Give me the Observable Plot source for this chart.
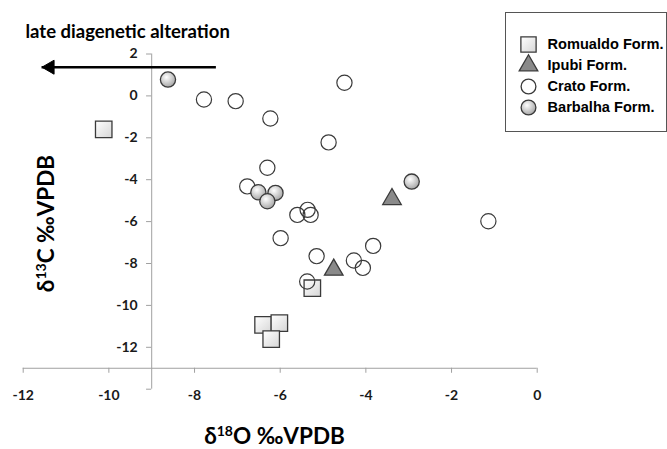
<!DOCTYPE html>
<html>
<head>
<meta charset="utf-8">
<script src="https://cdn.jsdelivr.net/npm/d3@7"></script>
<script src="https://cdn.jsdelivr.net/npm/@observablehq/plot@0.6"></script>
<style>
  html, body { margin: 0; padding: 0; background: #fff; }
  #wrap { position: relative; width: 667px; height: 449px; }
  #legend { position: absolute; left: 505px; top: 12px; width: 160px; height: 118px; border: 1px solid #555; background: #fff; }
  #legend svg, #chart svg { display: block; }
</style>
</head>
<body>
<div id="wrap">
  <div id="chart"></div>
  <div id="legend"></div>
</div>
<script>
// δ18O, δ13C pairs
const romualdo = [[-10.12, -1.60], [-5.25, -9.18], [-6.40, -10.93], [-6.02, -10.85], [-6.21, -11.61]];
const ipubi = [[-3.39, -4.93], [-4.75, -8.30]];
const crato = [[-4.50, 0.63], [-7.78, -0.17], [-7.04, -0.25], [-6.23, -1.08], [-4.87, -2.22], [-6.30, -3.43],
  [-6.77, -4.32], [-5.60, -5.68], [-5.36, -5.44], [-5.29, -5.68], [-5.99, -6.79], [-5.15, -7.65],
  [-4.28, -7.86], [-4.07, -8.21], [-3.83, -7.16], [-5.37, -8.86], [-1.14, -5.98]];
const barbalha = [[-8.62, 0.78], [-6.51, -4.60], [-6.11, -4.63], [-6.30, -5.03], [-2.93, -4.09]];

const xTicks = [-12, -10, -8, -6, -4, -2, 0];
const yTicks = [2, 0, -2, -4, -6, -8, -10, -12, -14];
const yLabels = [2, 0, -2, -4, -6, -8, -10, -12];
const xAxisAt = -13;   // δ13C value where the horizontal axis crosses
const yAxisAt = -9;    // δ18O value where the vertical axis crosses
const arrowFrom = [-7.63, 1.37];
const arrowTo = [-11.56, 1.37];
const names = ["Romualdo Form.", "Ipubi Form.", "Crato Form.", "Barbalha Form."];

const tickFont = "Lato, 'DejaVu Sans', sans-serif";
const axisGray = "#a0a0a0";
const mk = "#3a3a3a";

const px = d => d[0], py = d => d[1];

const chart = Plot.plot({
  width: 667,
  height: 449,
  margin: 0,
  style: {fontFamily: tickFont, background: "#fff"},
  x: {domain: [-12, 0], range: [22.7, 536.7], axis: null},
  y: {domain: [-14, 2], range: [388.7, 53.5], axis: null},
  marks: [
    // axes
    Plot.ruleY([xAxisAt], {x1: -12, x2: 0, stroke: axisGray, strokeWidth: 1}),
    Plot.ruleX([yAxisAt], {y1: -14, y2: 2, stroke: axisGray, strokeWidth: 1}),
    Plot.ruleX(xTicks, {x: d => d, y1: xAxisAt, y2: xAxisAt - 0.24, stroke: axisGray}),
    Plot.ruleY(yTicks, {y: d => d, x1: yAxisAt, x2: yAxisAt - 0.12, stroke: axisGray}),
    Plot.text(xTicks, {x: d => d, y: xAxisAt, dy: 27, text: d => String(d), fontSize: 14, fontWeight: "bold", fill: "#1a1a1a"}),
    Plot.text(yLabels, {x: yAxisAt, y: d => d, dx: -14, text: d => String(d), textAnchor: "end", fontSize: 14, fontWeight: "bold", fill: "#1a1a1a"}),
    // annotation arrow
    Plot.ruleY([arrowTo[1]], {x1: arrowFrom[0], x2: arrowTo[0], dx: 0, stroke: "#000", strokeWidth: 2.6, insetLeft: 6}),
    Plot.dot([arrowTo], {x: px, y: py, symbol: "triangle", r: 5.2, rotate: -90, dx: 8, fill: "#000", stroke: "#000", strokeWidth: 1}),
    Plot.text(["late diagenetic alteration"], {frameAnchor: "top-left", dx: 25, dy: 32, text: d => d, textAnchor: "start", lineAnchor: "middle", fontSize: 18.5, fontWeight: "bold", fill: "#000"}),
    // axis titles
    Plot.text(["δ18O ‰VPDB"], {frameAnchor: "top-left", dx: 274, dy: 436, text: d => d, textAnchor: "middle", lineAnchor: "middle", fontSize: 22.5, fontWeight: "bold", fill: "#000"}),
    Plot.text(["δ13C ‰VPDB"], {frameAnchor: "top-left", dx: 46, dy: 223, text: d => d, rotate: -90, textAnchor: "middle", lineAnchor: "middle", fontSize: 22.5, fontWeight: "bold", fill: "#000"}),
    // data
    Plot.dot(romualdo, {x: px, y: py, symbol: "square", r: 9.3, fill: "url(#gSq)", stroke: mk, strokeWidth: 1.3}),
    Plot.dot(ipubi, {x: px, y: py, symbol: "triangle", r: 6.9, fill: "#8a8a8a", stroke: mk, strokeWidth: 1.3}),
    Plot.dot(crato, {x: px, y: py, symbol: "circle", r: 7.6, fill: "none", stroke: mk, strokeWidth: 1.2}),
    Plot.dot(barbalha, {x: px, y: py, symbol: "circle", r: 7.6, fill: "url(#gCi)", stroke: mk, strokeWidth: 1.3})
  ]
});

// gradients for the marker fills
const defs = d3.select(chart).insert("defs", ":first-child");
const gs = defs.append("linearGradient").attr("id", "gSq").attr("x1", 0).attr("y1", 0).attr("x2", 1).attr("y2", 1);
gs.append("stop").attr("offset", "0%").attr("stop-color", "#ffffff");
gs.append("stop").attr("offset", "100%").attr("stop-color", "#d6d6d6");
const gc = defs.append("radialGradient").attr("id", "gCi").attr("cx", "40%").attr("cy", "35%").attr("r", "65%");
gc.append("stop").attr("offset", "0%").attr("stop-color", "#ffffff");
gc.append("stop").attr("offset", "100%").attr("stop-color", "#a8a8a8");

// superscripts in axis titles
d3.select(chart).selectAll("text").filter(function () { return this.textContent.includes("VPDB"); })
  .each(function () {
    const t = d3.select(this);
    const s = this.textContent;
    const sup = s.slice(1, 3), rest = s.slice(3);
    t.text(null);
    t.append("tspan").text("δ");
    t.append("tspan").attr("font-size", 14).attr("dy", -8).text(sup);
    t.append("tspan").attr("dy", 8).text(rest);
  });

document.getElementById("chart").appendChild(chart);

// legend
const legSym = {
  "Romualdo Form.": {symbol: "square", r: 8.6, fill: "url(#gSq)"},
  "Ipubi Form.": {symbol: "triangle", r: 6.9, fill: "#8a8a8a"},
  "Crato Form.": {symbol: "circle", r: 7.4, fill: "none"},
  "Barbalha Form.": {symbol: "circle", r: 7.4, fill: "url(#gCi)"}
};
const legend = Plot.plot({
  width: 160,
  height: 118,
  margin: 0,
  style: {fontFamily: "'Liberation Sans', Arial, sans-serif", background: "transparent"},
  x: {axis: null},
  y: {type: "point", domain: names, range: [20, 104], axis: null},
  marks: [
    ...names.map(n => Plot.dot([n], {y: d => d, frameAnchor: "left", dx: 22, symbol: legSym[n].symbol, r: legSym[n].r, fill: legSym[n].fill, stroke: mk, strokeWidth: 1.3})),
    Plot.text(names, {y: d => d, frameAnchor: "left", dx: 41, text: d => d, textAnchor: "start", fontSize: 14.6, fontWeight: "bold", fill: "#000"})
  ]
});
document.getElementById("legend").appendChild(legend);
</script>
</body>
</html>
